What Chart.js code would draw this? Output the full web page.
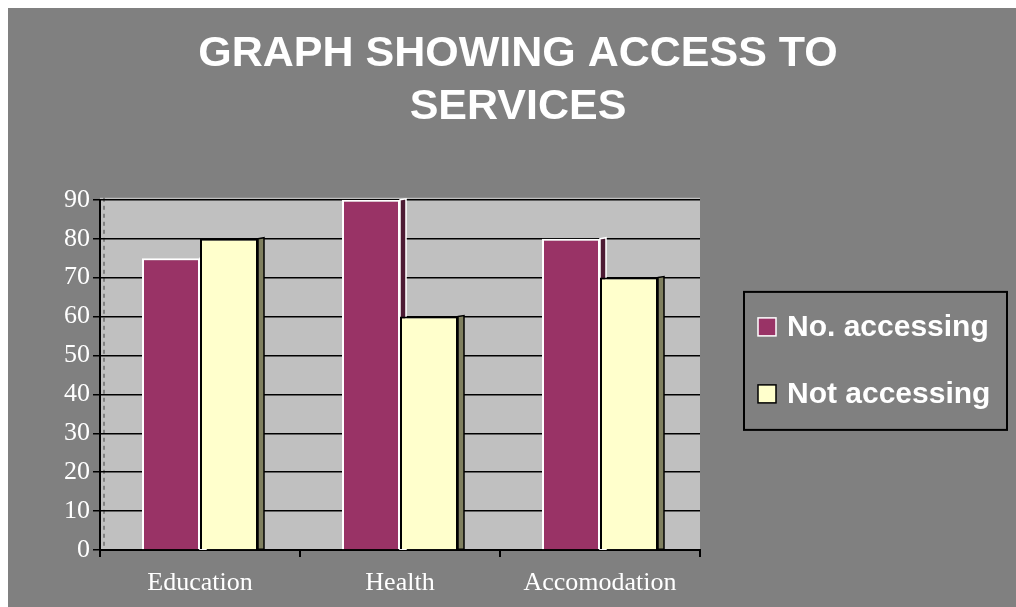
<!DOCTYPE html>
<html>
<head>
<meta charset="utf-8">
<script src="https://cdn.jsdelivr.net/npm/chart.js@4"></script>
<style>
  html, body { margin: 0; padding: 0; background: #fff; }
  #wrap { position: absolute; left: 8px; top: 8px; width: 1008px; height: 599px; background: #808080; }
</style>
</head>
<body>
<div id="wrap"><canvas id="accessChart"></canvas></div>
<script>
const categories = ['Education', 'Health', 'Accomodation'];
const accessing = [75, 90, 80];
const notAccessing = [80, 60, 70];
const seriesNames = ['No. accessing', 'Not accessing'];
const yTicks = [0, 10, 20, 30, 40, 50, 60, 70, 80, 90];

const frontColors = ['#993366', '#ffffcc'];
const sideColors = ['#4d1a33', '#808060'];
const edgeColors = ['#ffffff', '#000000'];

// grey wall behind the bars
const plotBg = {
  id: 'plotBg',
  beforeDraw(chart) {
    const { ctx, chartArea: a } = chart;
    ctx.save();
    ctx.fillStyle = '#c0c0c0';
    ctx.fillRect(a.left, a.top - 2, a.right - a.left, a.bottom - a.top + 2);
    ctx.setLineDash([4, 4]);
    ctx.strokeStyle = '#404040';
    ctx.lineWidth = 1;
    ctx.beginPath();
    ctx.moveTo(a.left + 4, a.top - 2);
    ctx.lineTo(a.left + 4, a.bottom);
    ctx.stroke();
    ctx.restore();
  }
};

// right-hand faces of the bars, drawn before the fronts so neighbours cover them
const barSides = {
  id: 'barSides',
  beforeDatasetsDraw(chart) {
    const ctx = chart.ctx;
    ctx.save();
    chart.data.datasets.forEach((ds, i) => {
      chart.getDatasetMeta(i).data.forEach(bar => {
        const { x, y, base, width } = bar.getProps(['x', 'y', 'base', 'width'], true);
        const r = x + width / 2;
        ctx.beginPath();
        ctx.moveTo(r, y);
        ctx.lineTo(r + 6, y - 1);
        ctx.lineTo(r + 6, base);
        ctx.lineTo(r, base);
        ctx.closePath();
        ctx.fillStyle = sideColors[i];
        ctx.fill();
        ctx.strokeStyle = edgeColors[i];
        ctx.lineWidth = 1.5;
        ctx.stroke();
      });
    });
    ctx.restore();
  }
};

// boxed legend in the space kept free on the right
const boxLegend = {
  id: 'boxLegend',
  afterDraw(chart) {
    const { ctx, chartArea: a } = chart;
    const left = a.right + 44;
    const right = chart.width - 9;
    const mid = (a.top + a.bottom) / 2 - 14;
    const top = mid - 69;
    const bottom = mid + 69;
    ctx.save();
    ctx.strokeStyle = '#000';
    ctx.lineWidth = 2;
    ctx.strokeRect(left, top, right - left, bottom - top);
    ctx.font = 'bold 30px "Liberation Sans", Arial, sans-serif';
    ctx.textBaseline = 'middle';
    chart.data.datasets.forEach((ds, i) => {
      const cy = top + 35 + i * 67;
      ctx.fillStyle = ds.backgroundColor;
      ctx.fillRect(left + 14, cy - 9, 18, 18);
      ctx.strokeStyle = ds.borderColor;
      ctx.lineWidth = 1.5;
      ctx.strokeRect(left + 14, cy - 9, 18, 18);
      ctx.fillStyle = '#fff';
      ctx.fillText(ds.label, left + 43, cy + 1);
    });
    ctx.restore();
  }
};

new Chart(document.getElementById('accessChart'), {
  type: 'bar',
  data: {
    labels: categories,
    datasets: [
      {
        label: seriesNames[0],
        data: accessing,
        backgroundColor: frontColors[0],
        borderColor: edgeColors[0],
        borderWidth: 2
      },
      {
        label: seriesNames[1],
        data: notAccessing,
        backgroundColor: frontColors[1],
        borderColor: edgeColors[1],
        borderWidth: 2
      }
    ]
  },
  options: {
    responsive: true,
    maintainAspectRatio: false,
    animation: false,
    layout: { padding: { left: 12, right: 0, top: 0, bottom: 0 } },
    datasets: {
      bar: { categoryPercentage: 0.58, barPercentage: 1.0 }
    },
    scales: {
      x: {
        grid: { offset: true, drawOnChartArea: false, color: '#000', lineWidth: 2, tickLength: 7 },
        border: { color: '#000', width: 2 },
        ticks: {
          color: '#fff',
          padding: 11,
          font: { family: '"Liberation Serif", "Times New Roman", serif', size: 26 }
        },
        afterFit(scale) { scale.height = 57; }
      },
      y: {
        min: 0,
        max: 90,
        afterBuildTicks(scale) { scale.ticks = yTicks.map(v => ({ value: v })); },
        grid: { color: '#000', lineWidth: 1.5, tickLength: 7 },
        border: { color: '#000', width: 2 },
        ticks: {
          color: '#fff',
          padding: 3,
          font: { family: '"Liberation Serif", "Times New Roman", serif', size: 26 }
        },
        afterFit(scale) { scale.width = 80; }
      },
      legendSpace: {
        type: 'linear',
        position: 'right',
        display: true,
        grid: { display: false },
        border: { display: false },
        ticks: { display: false },
        afterFit(scale) { scale.width = 316; }
      }
    },
    plugins: {
      legend: { display: false },
      tooltip: { enabled: false },
      title: {
        display: true,
        text: ['GRAPH SHOWING ACCESS TO', 'SERVICES'],
        color: '#fff',
        font: { family: '"Liberation Sans", Arial, sans-serif', size: 43, weight: 'bold', lineHeight: 1.23 },
        padding: { top: 20, bottom: 66 }
      }
    }
  },
  plugins: [plotBg, barSides, boxLegend]
});
</script>
</body>
</html>
